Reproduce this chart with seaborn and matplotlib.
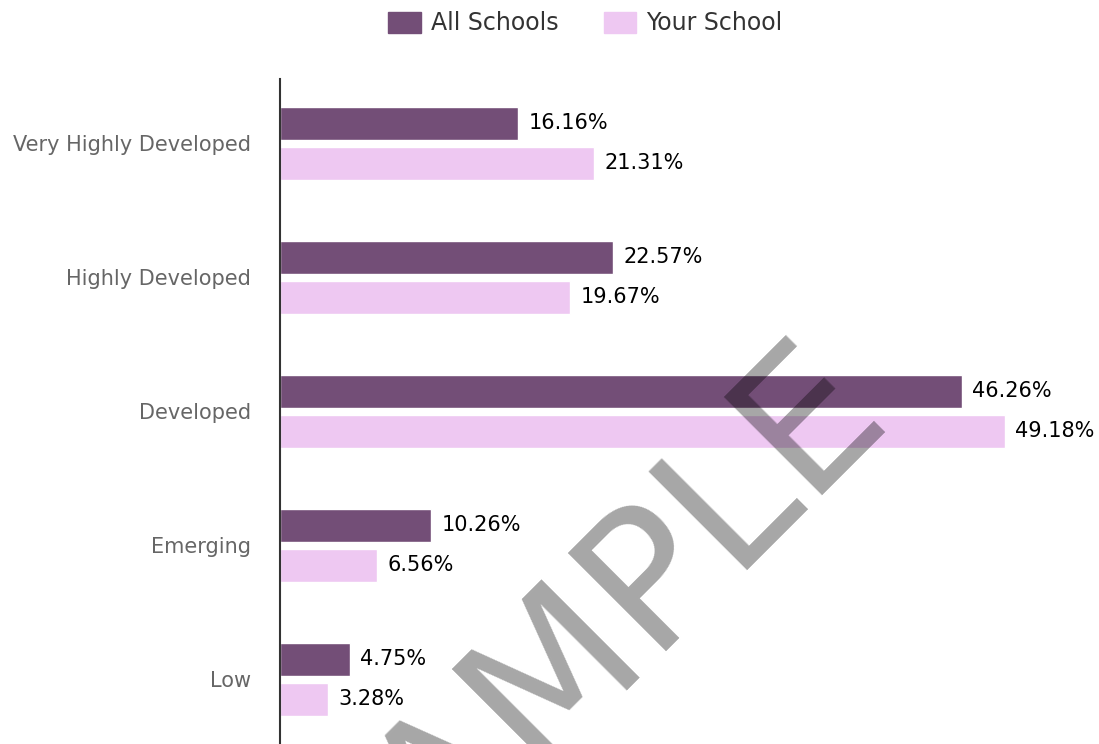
import matplotlib
matplotlib.use("Agg")
import matplotlib.pyplot as plt
import seaborn as sns
import pandas as pd

categories = ["Very Highly Developed", "Highly Developed", "Developed", "Emerging", "Low"]
all_schools = [16.16, 22.57, 46.26, 10.26, 4.75]
your_school = [21.31, 19.67, 49.18, 6.56, 3.28]
series_names = ["All Schools", "Your School"]
colors = ["#734e77", "#eec8f2"]

df = pd.DataFrame({
    "category": categories * 2,
    "value": all_schools + your_school,
    "group": [series_names[0]] * len(categories) + [series_names[1]] * len(categories),
})

W, H = 1099, 744
fig = plt.figure(figsize=(W / 100, H / 100), dpi=100)
sns.set_style("white")
plt.rcParams["font.family"] = ["DejaVu Sans"]

# axes placed in pixel terms
left_px, right_px = 280, W
top_px, bot_px = 79, 746.5
ax = fig.add_axes([left_px / W, 1 - bot_px / H, (right_px - left_px) / W, (bot_px - top_px) / H])

sns.barplot(data=df, x="value", y="category", hue="group", orient="h",
            palette=colors, width=0.597, gap=0.176, ax=ax, saturation=1)

px_per_pct = 14.74
ax.set_xlim(0, (right_px - left_px) / px_per_pct)
ax.set_ylim(4.5, -0.481)

for cont in ax.containers:
    ax.bar_label(cont, fmt="%.2f%%", padding=7.5, fontsize=15, color="black")

ax.get_legend().remove()
ax.set_xlabel("")
ax.set_ylabel("")
ax.set_xticks([])
ax.tick_params(axis="y", length=0, pad=21, labelsize=15, labelcolor="#666666")
for s in ["top", "right", "bottom"]:
    ax.spines[s].set_visible(False)
ax.spines["left"].set_color("#333333")
ax.spines["left"].set_linewidth(1.5)

handles = [plt.Rectangle((0, 0), 1, 1, color=c) for c in colors]
fig.legend(handles, series_names, loc="center", bbox_to_anchor=(585.5 / W, 1 - 23.5 / H),
           ncol=2, frameon=False, fontsize=17, labelcolor="#333333",
           handlelength=1.36, handleheight=0.98, handletextpad=0.45, columnspacing=1.9)

# watermark (cut off at the bottom edge like the original)
fig.text(623 / W, 1 - 682 / H, "SAMPLE", rotation=45, rotation_mode="anchor",
         ha="center", va="baseline", fontsize=137, color="black", alpha=0.35)

fig.savefig("out.png", dpi=100)
